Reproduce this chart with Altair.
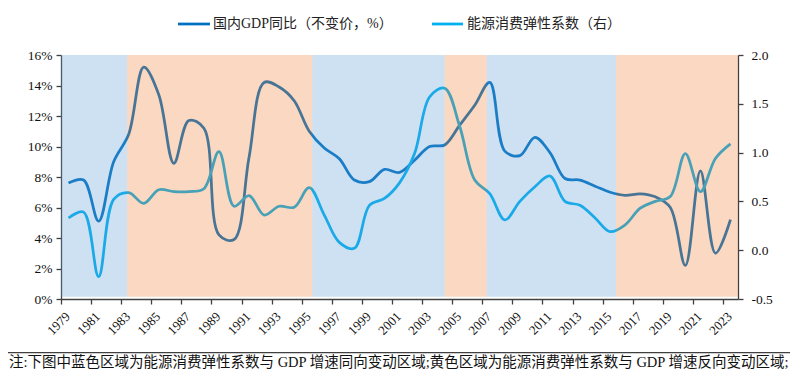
import altair as alt
import pandas as pd

# ---------------- data ----------------
years = list(range(1979, 2024))
gdp = [7.6, 7.8, 5.1, 9.0, 10.8, 15.2, 13.4, 8.9, 11.7, 11.2,
       4.2, 3.9, 9.3, 14.2, 13.9, 13.0, 11.0, 9.9, 9.2, 7.8,
       7.7, 8.5, 8.3, 9.1, 10.0, 10.1, 11.4, 12.7, 14.2, 9.7,
       9.4, 10.6, 9.6, 7.9, 7.8, 7.4, 7.0, 6.8, 6.9, 6.7,
       6.0, 2.2, 8.4, 3.0, 5.2]
energy = [0.33, 0.39, -0.27, 0.52, 0.59, 0.48, 0.62, 0.60, 0.60, 0.63,
          1.01, 0.45, 0.56, 0.36, 0.45, 0.44, 0.64, 0.36, 0.08, 0.02,
          0.46, 0.53, 0.69, 0.99, 1.57, 1.66, 1.27, 0.72, 0.58, 0.31,
          0.50, 0.65, 0.76, 0.50, 0.46, 0.33, 0.19, 0.26, 0.43, 0.50,
          0.55, 0.99, 0.60, 0.94, 1.09]

region_start = [1978.5, 1982.9, 1995.2, 2004.0, 2006.8, 2015.4]
region_end = [1982.9, 1995.2, 2004.0, 2006.8, 2015.4, 2023.5]
region_kind = ["同向", "反向", "同向", "反向", "同向", "反向"]

legend_labels = ["国内GDP同比（不变价，%）", "能源消费弹性系数（右）"]
note_text = ["注:下图中蓝色区域为能源消费弹性系数与 GDP 增速同向变动区域;黄色区域为能源消费弹性系数与 GDP 增速反向变动区域;"]

x_ticks = list(range(1979, 2024, 2))
left_ticks = [0, 2, 4, 6, 8, 10, 12, 14, 16]
right_ticks = [-0.5, 0.0, 0.5, 1.0, 1.5, 2.0]

# ---------------- styles ----------------
W, H = 677, 244
BAND = W / 45.0
GDP_C = "#0070C0"
EN_C = "#00B0F0"
AX_C = "#404040"
SERIF = "Liberation Serif"
CJK = "Liberation Serif, Noto Sans CJK SC"
LW = 2.75

df = pd.DataFrame({"year": years, "gdp": gdp, "energy": energy})
reg_df = pd.DataFrame({"start": region_start, "end": region_end, "kind": region_kind})

xscale = alt.Scale(domain=[1978.5, 2023.5], nice=False, zero=False)

x_axis = alt.Axis(
    values=x_ticks, format="d", title=None, grid=False,
    labelAngle=-45, labelAlign="right", labelBaseline="middle",
    tickOffset=-BAND / 2, labelOffset=BAND / 2 - 1, labelPadding=10,
    labelOverlap=False, labelFlush=False, labelFontSize=13,
)

gdp_line = alt.Chart(df).mark_line(
    interpolate="catmull-rom", color=GDP_C, strokeWidth=LW
).encode(
    x=alt.X("year:Q", scale=xscale, axis=x_axis),
    y=alt.Y("gdp:Q", scale=alt.Scale(domain=[0, 16], nice=False, zero=False),
            axis=alt.Axis(orient="left", values=left_ticks, title=None, grid=False,
                          labelExpr="datum.value + '%'", labelPadding=4)),
)

energy_line = alt.Chart(df).mark_line(
    interpolate="catmull-rom", color=EN_C, strokeWidth=LW
).encode(
    x=alt.X("year:Q", scale=xscale, axis=x_axis),
    y=alt.Y("energy:Q", scale=alt.Scale(domain=[-0.5, 2.0], nice=False, zero=False),
            axis=alt.Axis(orient="right", values=right_ticks, title=None, grid=False,
                          labelExpr="datum.value < 0 ? '-' + format(-datum.value, '.1f') : format(datum.value, '.1f')",
                          labelPadding=8)),
)

rects = alt.Chart(reg_df).mark_rect(opacity=0.3).encode(
    x=alt.X("start:Q", scale=xscale, axis=x_axis),
    x2="end:Q",
    y=alt.value(0),
    y2=alt.value(H - 2.3),
    color=alt.Color("kind:N", scale=alt.Scale(domain=["同向", "反向"],
                                              range=["#5B9BD5", "#ED7D31"]), legend=None),
)

leg1_df = pd.DataFrame({"label": [legend_labels[0]]})
leg2_df = pd.DataFrame({"label": [legend_labels[1]]})
LEG_Y = -31

leg1_line = alt.Chart(leg1_df).mark_rule(color=GDP_C, strokeWidth=LW).encode(
    x=alt.value(117), x2=alt.value(149), y=alt.value(LEG_Y))
leg1_text = alt.Chart(leg1_df).mark_text(
    align="left", baseline="middle", font=CJK, fontSize=14, color="#222222"
).encode(x=alt.value(152), y=alt.value(LEG_Y), text="label:N")

leg2_line = alt.Chart(leg2_df).mark_rule(color=EN_C, strokeWidth=LW).encode(
    x=alt.value(371), x2=alt.value(402), y=alt.value(LEG_Y))
leg2_text = alt.Chart(leg2_df).mark_text(
    align="left", baseline="middle", font=CJK, fontSize=14, color="#222222"
).encode(x=alt.value(406), y=alt.value(LEG_Y), text="label:N")

note_df = pd.DataFrame({"note": note_text})
sep_rule = alt.Chart(note_df).mark_rule(color=AX_C, strokeWidth=1.3).encode(
    x=alt.value(-53), x2=alt.value(737), y=alt.value(297.7))
note = alt.Chart(note_df).mark_text(
    align="left", baseline="middle", font=CJK, fontSize=14.5, color="#111111"
).encode(x=alt.value(-52), y=alt.value(307.5), text="note:N")

chart = alt.layer(
    gdp_line, energy_line, rects,
    leg1_line, leg1_text, leg2_line, leg2_text,
    sep_rule, note,
).resolve_scale(
    y="independent", color="independent"
).properties(
    width=W, height=H,
    autosize=alt.AutoSizeParams(type="none"),
    padding={"left": 53, "top": 47, "right": 52, "bottom": 71},
).configure_view(
    stroke=None
).configure_axis(
    domainColor=AX_C, tickColor=AX_C, domainWidth=1.3, tickWidth=1.3, tickSize=5,
    labelColor="#111111", labelFont=SERIF, labelFontSize=13.5,
)

chart.save("out.html", embed_options={"renderer": "svg", "actions": False})
